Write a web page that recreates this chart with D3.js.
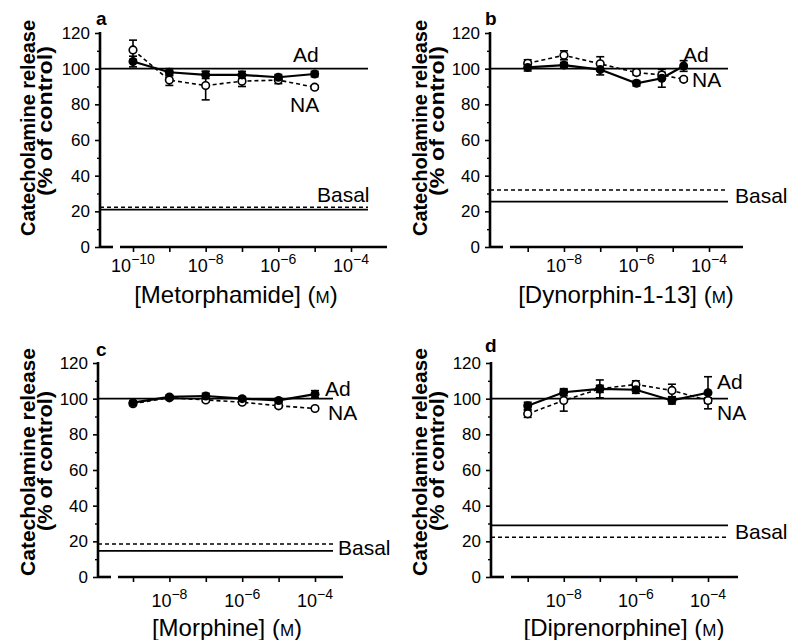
<!DOCTYPE html>
<html><head><meta charset="utf-8">
<script src="https://cdn.jsdelivr.net/npm/d3@7"></script>
<style>
body{margin:0;background:#fff}
svg{display:block}
text{font-family:"Liberation Sans",Arial,Helvetica,sans-serif;fill:#000}
</style>
</head><body>
<svg id="chart" width="789" height="640"></svg>
<script>
// ---------------- DATA ----------------
const panelLetters = ["a", "b", "c", "d"];
const drugNames = ["Metorphamide", "Dynorphin-1-13", "Morphine", "Diprenorphine"];
const yTickValues = [0, 20, 40, 60, 80, 100, 120];
const yMinorValues = [10, 30, 50, 70, 90, 110];
const xTickExpA = [-10, -9, -8, -7, -6, -5, -4];
const xLabelExpA = [-10, -8, -6, -4];
const xTickExpOther = [-9, -8, -7, -6, -5, -4];
const xLabelExpOther = [-8, -6, -4];
const controlLevel = 100;

// panel a: metorphamide
const concA = [1e-10, 1e-9, 1e-8, 1e-7, 1e-6, 1e-5];
const adA = [104, 98, 96.5, 96.5, 95.2, 97];
const adErrA = [3, 2, 2, 2, 1.5, 1.5];
const naA = [110.5, 93.6, 90.5, 93, 93.6, 89.6];
const naErrA = [5.5, 3, 8, 3, 2, 1];
const basalAdA = 21;
const basalNaA = 22.3;

// panel b: dynorphin-1-13
const concB = [1e-9, 1e-8, 1e-7, 1e-6, 5e-6, 2e-5];
const adB = [100.7, 102, 99.5, 91.8, 94.6, 101.5];
const adErrB = [2, 1.5, 3, 1.5, 5, 3];
const naB = [103, 107.5, 102.7, 97.8, 96.5, 94];
const naErrB = [2, 2.5, 4, 1.5, 1.5, 1];
const basalAdB = 25.5;
const basalNaB = 32;

// panel c: morphine
const concC = [1e-9, 1e-8, 1e-7, 1e-6, 1e-5, 1e-4];
const adC = [97.8, 101, 101.5, 100, 99, 102.5];
const adErrC = [1, 1, 1.5, 1, 1, 2];
const naC = [97.2, 100.5, 99.3, 98, 96, 94.5];
const naErrC = [1, 1, 1, 1, 1, 1];
const basalAdC = 14.7;
const basalNaC = 18.5;

// panel d: diprenorphine
const concD = [1e-9, 1e-8, 1e-7, 1e-6, 1e-5, 1e-4];
const adD = [96, 103.6, 105.5, 105, 99, 103.3];
const adErrD = [2, 2, 2, 2, 2, 9];
const naD = [91.5, 99, 105.5, 108, 104.6, 99];
const naErrD = [2, 6, 5, 2, 3.5, 1.5];
const basalAdD = 28.9;
const basalNaD = 22.3;

// ---------------- LAYOUT ----------------
const layout = [
  {ox: 100, yTop: 33, yBot: 247, tick0: 133, tick1: 351, axisEnd: 387, refEnd: 368,
   letter: [96, 25], yt1: [35, 128, 216], yt2: [52, 121, 150], xt: [236, 303], tickLabY: 272,
   ad: [293, 62], na: [290, 112], basal: [317, 202]},
  {ox: 490, yTop: 33, yBot: 247, tick0: 527.7, tick1: 709, axisEnd: 743, refEnd: 728,
   letter: [485, 25], yt1: [427, 128, 216], yt2: [444, 121, 150], xt: [626, 303], tickLabY: 272,
   ad: [683, 62], na: [692, 87], basal: [735, 203]},
  {ox: 98, yTop: 363, yBot: 577, tick0: 133, tick1: 315, axisEnd: 343, refEnd: 333,
   letter: [96, 356], yt1: [35, 462, 228], yt2: [52, 461, 140], xt: [227, 636], tickLabY: 607,
   ad: [325, 396], na: [328, 420], basal: [338, 555]},
  {ox: 491, yTop: 363, yBot: 577, tick0: 527.7, tick1: 708, axisEnd: 738, refEnd: 728,
   letter: [485, 352], yt1: [427, 462, 228], yt2: [444, 461, 140], xt: [624, 636], tickLabY: 607,
   ad: [717, 389], na: [717, 420], basal: [735, 539]}
];

const panels = [
  {conc: concA, ad: adA, adErr: adErrA, na: naA, naErr: naErrA, basalAd: basalAdA, basalNa: basalNaA, ticks: xTickExpA, labels: xLabelExpA, tickRef: [1e-10, 1e-4]},
  {conc: concB, ad: adB, adErr: adErrB, na: naB, naErr: naErrB, basalAd: basalAdB, basalNa: basalNaB, ticks: xTickExpOther, labels: xLabelExpOther, tickRef: [1e-9, 1e-4]},
  {conc: concC, ad: adC, adErr: adErrC, na: naC, naErr: naErrC, basalAd: basalAdC, basalNa: basalNaC, ticks: xTickExpOther, labels: xLabelExpOther, tickRef: [1e-9, 1e-4]},
  {conc: concD, ad: adD, adErr: adErrD, na: naD, naErr: naErrD, basalAd: basalAdD, basalNa: basalNaD, ticks: xTickExpOther, labels: xLabelExpOther, tickRef: [1e-9, 1e-4]}
];

const svg = d3.select("#chart");

panels.forEach((p, i) => {
  const L = layout[i];
  const g = svg.append("g");
  const x = d3.scaleLog().domain(p.tickRef).range([L.tick0, L.tick1]);
  const y = d3.scaleLinear().domain([0, 120]).range([L.yBot, L.yTop]);

  // y axis
  const yAxis = d3.axisLeft(y).tickValues(yTickValues).tickSize(5).tickPadding(5);
  const ya = g.append("g").attr("transform", `translate(${L.ox},0)`).call(yAxis);
  ya.select(".domain").remove();
  ya.selectAll(".tick line").attr("stroke", "#000").attr("stroke-width", 1.6);
  ya.selectAll(".tick text").attr("font-size", 17).attr("font-family", "Liberation Sans, Arial, sans-serif");
  const yMinor = d3.axisLeft(y).tickValues(yMinorValues).tickSize(3).tickFormat("");
  const ym = g.append("g").attr("transform", `translate(${L.ox},0)`).call(yMinor);
  ym.select(".domain").remove();
  ym.selectAll(".tick line").attr("stroke", "#000").attr("stroke-width", 1.4);
  g.append("line").attr("x1", L.ox).attr("x2", L.ox).attr("y1", y(120) - 1).attr("y2", y(0) + 1)
    .attr("stroke", "#000").attr("stroke-width", 2.6);

  // x axis (broken near origin)
  g.append("line").attr("x1", L.ox).attr("x2", L.ox + 13).attr("y1", y(0)).attr("y2", y(0))
    .attr("stroke", "#000").attr("stroke-width", 2.6);
  g.append("line").attr("x1", L.ox + 20).attr("x2", L.axisEnd).attr("y1", y(0)).attr("y2", y(0))
    .attr("stroke", "#000").attr("stroke-width", 2.6);
  const xAxis = d3.axisBottom(x).tickValues(p.ticks.map(e => Math.pow(10, e))).tickSize(5).tickFormat("");
  const xa = g.append("g").attr("transform", `translate(0,${y(0)})`).call(xAxis);
  xa.select(".domain").remove();
  xa.selectAll(".tick line").attr("stroke", "#000").attr("stroke-width", 1.6);

  // x tick labels 10^n
  p.labels.forEach(e => {
    const t = g.append("text").attr("x", x(Math.pow(10, e))).attr("y", L.tickLabY)
      .attr("text-anchor", "middle").attr("font-size", 18);
    t.append("tspan").text("10");
    t.append("tspan").attr("dy", -8).attr("font-size", 14).text("\u2212" + Math.abs(e));
  });

  // reference lines
  g.append("line").attr("x1", L.ox).attr("x2", L.refEnd).attr("y1", y(controlLevel)).attr("y2", y(controlLevel))
    .attr("stroke", "#000").attr("stroke-width", 1.7);
  g.append("line").attr("x1", L.ox).attr("x2", L.refEnd).attr("y1", y(p.basalAd)).attr("y2", y(p.basalAd))
    .attr("stroke", "#000").attr("stroke-width", 1.7);
  g.append("line").attr("x1", L.ox).attr("x2", L.refEnd).attr("y1", y(p.basalNa)).attr("y2", y(p.basalNa))
    .attr("stroke", "#000").attr("stroke-width", 1.6).attr("stroke-dasharray", "4,3");

  const adPts = p.conc.map((c, k) => ({c, v: p.ad[k], e: p.adErr[k]}));
  const naPts = p.conc.map((c, k) => ({c, v: p.na[k], e: p.naErr[k]}));
  const line = d3.line().x(d => x(d.c)).y(d => y(d.v));

  g.append("path").attr("d", line(naPts)).attr("fill", "none").attr("stroke", "#000")
    .attr("stroke-width", 1.6).attr("stroke-dasharray", "4,3");
  g.append("path").attr("d", line(adPts)).attr("fill", "none").attr("stroke", "#000")
    .attr("stroke-width", 2.2);

  // error bars
  [naPts, adPts].forEach(pts => {
    pts.forEach(d => {
      const cx = x(d.c);
      g.append("line").attr("x1", cx).attr("x2", cx).attr("y1", y(d.v - d.e)).attr("y2", y(d.v + d.e))
        .attr("stroke", "#000").attr("stroke-width", 1.6);
      [d.v - d.e, d.v + d.e].forEach(v => {
        g.append("line").attr("x1", cx - 4).attr("x2", cx + 4).attr("y1", y(v)).attr("y2", y(v))
          .attr("stroke", "#000").attr("stroke-width", 1.6);
      });
    });
  });

  // markers
  g.selectAll(".na").data(naPts).enter().append("circle")
    .attr("cx", d => x(d.c)).attr("cy", d => y(d.v)).attr("r", 3.8)
    .attr("fill", "#fff").attr("stroke", "#000").attr("stroke-width", 1.6);
  g.selectAll(".ad").data(adPts).enter().append("circle")
    .attr("cx", d => x(d.c)).attr("cy", d => y(d.v)).attr("r", 4.5)
    .attr("fill", "#000");

  // labels
  g.append("text").attr("x", L.ad[0]).attr("y", L.ad[1]).attr("font-size", 21).text("Ad");
  g.append("text").attr("x", L.na[0]).attr("y", L.na[1]).attr("font-size", 21).text("NA");
  g.append("text").attr("x", L.basal[0]).attr("y", L.basal[1]).attr("font-size", 21).text("Basal");

  // panel letter
  g.append("text").attr("x", L.letter[0]).attr("y", L.letter[1]).attr("font-size", 19)
    .attr("font-weight", "bold").text(panelLetters[i]);

  // y title
  g.append("text").attr("transform", `translate(${L.yt1[0]},${L.yt1[1]}) rotate(-90)`)
    .attr("text-anchor", "middle").attr("font-size", 21).attr("font-weight", "bold")
    .attr("textLength", L.yt1[2]).attr("lengthAdjust", "spacingAndGlyphs")
    .text("Catecholamine release");
  g.append("text").attr("transform", `translate(${L.yt2[0]},${L.yt2[1]}) rotate(-90)`)
    .attr("text-anchor", "middle").attr("font-size", 21).attr("font-weight", "bold")
    .attr("textLength", L.yt2[2]).attr("lengthAdjust", "spacingAndGlyphs")
    .text("(% of control)");

  // x title
  const xt = g.append("text").attr("x", L.xt[0]).attr("y", L.xt[1]).attr("text-anchor", "middle")
    .attr("font-size", 24);
  xt.append("tspan").text("[" + drugNames[i] + "] (");
  xt.append("tspan").attr("font-size", 17).text("M");
  xt.append("tspan").text(")");
});
</script>
</body></html>
